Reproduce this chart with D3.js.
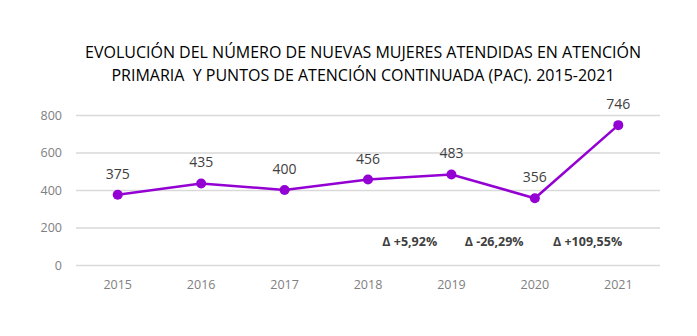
<!DOCTYPE html>
<html><head><meta charset="utf-8">
<script src="https://cdn.jsdelivr.net/npm/d3@7"></script>
<style>body{margin:0;background:#fff}svg{display:block}</style>
</head><body><svg id="c" width="697" height="336"></svg>
<script>
const years = ["2015","2016","2017","2018","2019","2020","2021"];
const values = [375,435,400,456,483,356,746];
const yTicks = [0,200,400,600,800];
const deltaFrom = ["2018","2019","2020"];
const deltaTo = ["2019","2020","2021"];
const deltaLabels = ["Δ +5,92%","Δ -26,29%","Δ +109,55%"];
const titleLines = ["EVOLUCIÓN DEL NÚMERO DE NUEVAS MUJERES ATENDIDAS EN ATENCIÓN","PRIMARIA  Y PUNTOS DE ATENCIÓN CONTINUADA (PAC). 2015-2021"];

const svg = d3.select("#c");
const font = "Open Sans, Liberation Sans, sans-serif";
const x = d3.scaleBand().domain(years).range([76,660]);
const y = d3.scaleLinear().domain([0,800]).range([265,115]);
const cx = d => x(d) + x.bandwidth()/2;

svg.append("g").selectAll("text").data(titleLines).join("text")
  .attr("x",363).attr("y",(d,i)=>58+i*23).attr("text-anchor","middle")
  .attr("font-family",font).attr("font-size",16).attr("fill","#000")
  .style("white-space","pre").text(d=>d);

const ya = svg.append("g").attr("transform","translate(76,0)")
  .call(d3.axisLeft(y).tickValues(yTicks).tickSize(-584).tickPadding(14));
ya.select(".domain").remove();
ya.selectAll("line").attr("stroke","#d9d9d9").attr("stroke-width",1.3);
ya.selectAll("text").attr("font-family",font).attr("font-size",12.5).attr("fill","#808080");

const xa = svg.append("g").attr("transform","translate(0,265)")
  .call(d3.axisBottom(x).tickSize(0).tickPadding(15));
xa.select(".domain").remove();
xa.selectAll("text").attr("font-family",font).attr("font-size",12.5).attr("fill","#808080");

const color = "#9400d3";
svg.append("path").datum(values)
  .attr("d", d3.line().x((d,i)=>cx(years[i])).y(d=>y(d)))
  .attr("fill","none").attr("stroke",color).attr("stroke-width",2.5);
svg.append("g").selectAll("circle").data(values).join("circle")
  .attr("cx",(d,i)=>cx(years[i])).attr("cy",d=>y(d)).attr("r",5).attr("fill",color);
svg.append("g").selectAll("text").data(values).join("text")
  .attr("x",(d,i)=>cx(years[i])).attr("y",d=>y(d)-16).attr("text-anchor","middle")
  .attr("font-family",font).attr("font-size",14).attr("fill","#404040").text(d=>d);

const shift = [0,1,11];
svg.append("g").selectAll("text").data(deltaLabels).join("text")
  .attr("x",(d,i)=>(cx(deltaFrom[i])+cx(deltaTo[i]))/2 + shift[i]).attr("y",246).attr("text-anchor","middle")
  .attr("font-family",font).attr("font-size",12.5).attr("font-weight","bold").attr("fill","#404040")
  .text(d=>d);
</script></body></html>
